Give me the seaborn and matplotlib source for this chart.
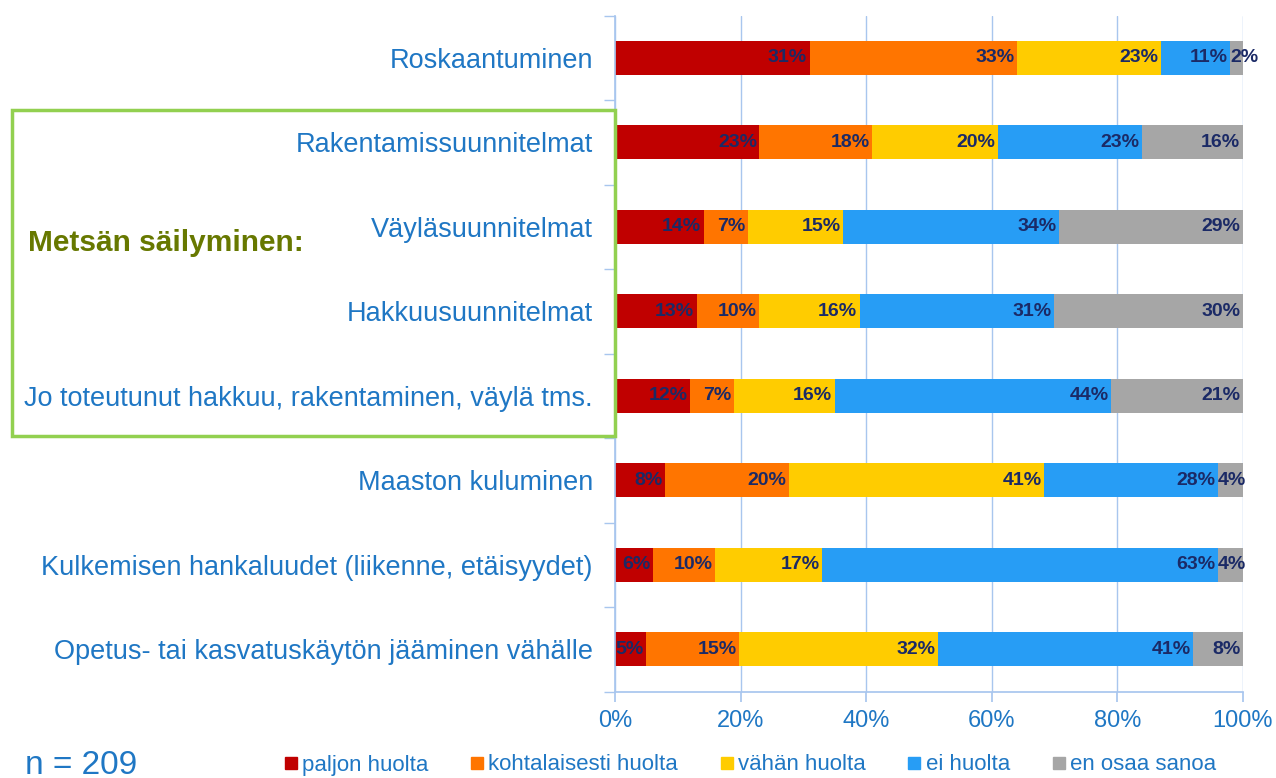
import numpy as np
import pandas as pd
import matplotlib
matplotlib.use("Agg")
import matplotlib.pyplot as plt
from matplotlib.patches import Rectangle
from matplotlib.lines import Line2D
import seaborn as sns

# ── Data ─────────────────────────────────────────────────────
categories = [
    "Roskaantuminen",
    "Rakentamissuunnitelmat",
    "Väyläsuunnitelmat",
    "Hakkuusuunnitelmat",
    "Jo toteutunut hakkuu, rakentaminen, väylä tms.",
    "Maaston kuluminen",
    "Kulkemisen hankaluudet (liikenne, etäisyydet)",
    "Opetus- tai kasvatuskäytön jääminen vähälle",
]
series = ["paljon huolta", "kohtalaisesti huolta", "vähän huolta",
          "ei huolta", "en osaa sanoa"]
paljon = [31, 23, 14, 13, 12, 8, 6, 5]
kohtalaisesti = [33, 18, 7, 10, 7, 20, 10, 15]
vahan = [23, 20, 15, 16, 16, 41, 17, 32]
ei = [11, 23, 34, 31, 44, 28, 63, 41]
en_osaa = [2, 16, 29, 30, 21, 4, 4, 8]
n_text = "n = 209"
group_label = "Metsän säilyminen:"

colors = ["#C00000", "#FF7500", "#FFCC00", "#279DF5", "#A6A6A6"]
blue_text = "#1F77C4"
label_col = "#1B2A66"
grid_col = "#A8C6EE"

df = pd.DataFrame({"paljon huolta": paljon,
                   "kohtalaisesti huolta": kohtalaisesti,
                   "vähän huolta": vahan,
                   "ei huolta": ei,
                   "en osaa sanoa": en_osaa}, index=categories)
# 100 % stacked chart: each row is scaled to a full bar
share = df.div(df.sum(axis=1), axis=0) * 100
cum = share.cumsum(axis=1)

sns.set_theme(style="white")
plt.rcParams["font.family"] = ["Liberation Sans", "DejaVu Sans"]

fig = plt.figure(figsize=(12.76, 7.78), dpi=100)
ax = fig.add_axes([0.482, 0.111, 0.492, 0.869])

# ── Stacked bars (draw from the longest cumulative down) ────
for s, c in reversed(list(zip(series, colors))):
    sns.barplot(x=cum[s].values, y=categories, color=c, orient="h",
                width=0.4, saturation=1, ax=ax, edgecolor="none")

# ── Segment labels ───────────────────────────────────────────
for i, cat in enumerate(categories):
    for s in series:
        v = df.loc[cat, s]
        end = cum.loc[cat, s]
        start = end - share.loc[cat, s]
        if v <= 4:
            ax.text(start, i, f"{v}%", ha="left", va="center",
                    fontsize=14, fontweight="bold", color=label_col,
                    clip_on=False)
        else:
            ax.text(end - 0.4, i, f"{v}%", ha="right", va="center",
                    fontsize=14, fontweight="bold", color=label_col)

# ── Axes styling ─────────────────────────────────────────────
ax.set_xlim(0, 100)
ax.set_ylim(7.5, -0.5)
ax.set_xticks(np.arange(0, 101, 20))
ax.set_xticklabels([f"{t}%" for t in range(0, 101, 20)])
ax.set_yticks(range(len(categories)))
ax.set_yticks(np.arange(-0.5, len(categories), 1), minor=True)
ax.xaxis.grid(True, color=grid_col, lw=1)
ax.set_axisbelow(True)
ax.set_xlabel("")
ax.set_ylabel("")
for side in ["top", "right"]:
    ax.spines[side].set_visible(False)
for side in ["left", "bottom"]:
    ax.spines[side].set_color(grid_col)
ax.tick_params(axis="y", which="major", length=0, pad=16,
               labelsize=19.5, labelcolor=blue_text)
ax.tick_params(axis="y", which="minor", length=8, color=grid_col,
               direction="out", left=True)
ax.tick_params(axis="x", length=7, color=grid_col, pad=6,
               labelsize=17, labelcolor=blue_text, bottom=True)

# ── Green group box ──────────────────────────────────────────
fig.patches.append(Rectangle((12 / 1276, 1 - 436 / 778), 603 / 1276,
                             326 / 778, transform=fig.transFigure,
                             fill=False, edgecolor="#92D050", lw=2.5,
                             zorder=5))
fig.text(28 / 1276, 1 - 243 / 778, group_label, ha="left", va="center",
         fontsize=21.5, fontweight="bold", color="#677800")

# ── Legend and n ─────────────────────────────────────────────
handles = [Line2D([], [], marker="s", ls="none", markersize=9,
                  markerfacecolor=c, markeredgecolor=c) for c in colors]
fig.legend(handles, series, loc="center", bbox_to_anchor=(0.586, 1 - 765 / 778),
           ncol=5, frameon=False, handletextpad=0.0, columnspacing=1.7,
           handlelength=1.0, prop={"size": 16}, labelcolor=blue_text)
fig.text(25 / 1276, 1 - 765 / 778, n_text, ha="left", va="center",
         fontsize=24, color=blue_text)

fig.savefig("out.png", dpi=100)
